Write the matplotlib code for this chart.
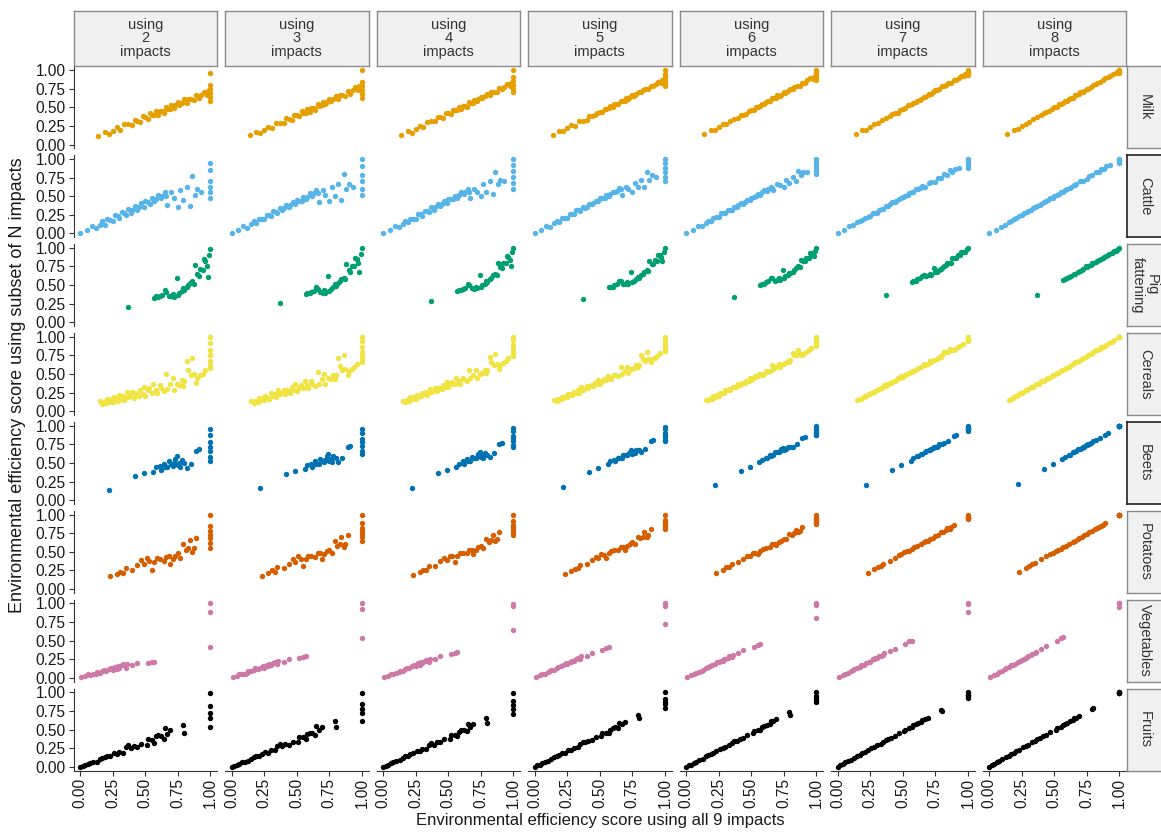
import matplotlib
matplotlib.use('Agg')
import matplotlib.pyplot as plt

plt.rcParams['font.family'] = ['Liberation Sans', 'DejaVu Sans']

# ---------------- data ----------------
n_impacts = [2, 3, 4, 5, 6, 7, 8]
products = ['Milk', 'Cattle', 'Pig\nfattening', 'Cereals', 'Beets', 'Potatoes', 'Vegetables', 'Fruits']
colors = ['#E69F00', '#56B4E9', '#009E73', '#F0E442', '#0072B2', '#D55E00', '#CC79A7', '#000000']
tick_vals = [0.0, 0.25, 0.5, 0.75, 1.0]
tick_labels = ['0.00', '0.25', '0.50', '0.75', '1.00']

milk_x = [0.14,0.19,0.22,0.25,0.28,0.31,0.34,0.37,0.40,0.42,
          0.44,0.46,0.48,0.50,0.52,0.54,0.55,0.57,0.58,0.60,
          0.61,0.63,0.64,0.66,0.67,0.69,0.70,0.72,0.73,0.75,
          0.76,0.78,0.80,0.82,0.83,0.85,0.87,0.89,0.91,0.93,
          0.95,0.97,0.98,1,1,1,1,1,1]
milk_y = [
    [.12,.17,.14,.18,.23,.19,.27,.27,.26,.33,.32,.30,.38,.37,.34,.42,.40,.40,.45,.40,
     .45,.45,.43,.51,.48,.48,.53,.49,.53,.57,.53,.56,.61,.56,.61,.61,.60,.67,.63,.67,
     .71,.67,.72,.58,.64,.69,.74,.80,.96],
    [.13,.17,.15,.20,.24,.22,.29,.29,.29,.35,.34,.33,.40,.40,.38,.45,.43,.43,.48,.44,
     .49,.49,.47,.54,.52,.53,.57,.54,.57,.61,.58,.61,.65,.61,.66,.66,.65,.72,.68,.73,
     .77,.73,.78,.62,.68,.73,.78,.84,1.00],
    [.13,.18,.16,.21,.25,.24,.30,.31,.31,.37,.37,.36,.42,.43,.41,.47,.46,.46,.50,.48,
     .52,.52,.51,.57,.56,.56,.60,.58,.61,.64,.62,.65,.68,.66,.70,.71,.70,.76,.74,.77,
     .81,.79,.82,.70,.75,.80,.85,.90,1.00],
    [.13,.18,.18,.22,.26,.25,.31,.32,.33,.38,.38,.39,.43,.44,.44,.48,.48,.49,.52,.51,
     .54,.55,.54,.59,.58,.59,.62,.61,.64,.67,.65,.68,.71,.70,.73,.74,.74,.79,.78,.81,
     .84,.83,.86,.78,.82,.86,.90,.94,1.00],
    [.14,.19,.19,.23,.27,.27,.32,.34,.36,.40,.40,.41,.45,.47,.47,.51,.51,.52,.55,.54,
     .57,.58,.58,.62,.62,.63,.66,.65,.67,.70,.69,.72,.75,.74,.77,.78,.79,.83,.83,.86,
     .89,.88,.91,.86,.89,.92,.95,.97,1.00],
    [.14,.19,.20,.24,.28,.29,.33,.36,.38,.41,.42,.43,.47,.48,.49,.53,.53,.54,.56,.57,
     .59,.60,.61,.64,.64,.66,.68,.68,.70,.73,.73,.75,.78,.78,.80,.82,.83,.86,.87,.89,
     .92,.92,.95,.93,.95,.96,.97,.98,1.00],
    [.14,.19,.21,.25,.28,.30,.34,.37,.39,.42,.44,.45,.48,.50,.51,.54,.54,.56,.58,.59,
     .61,.62,.63,.66,.66,.68,.70,.71,.72,.75,.75,.77,.80,.81,.82,.84,.86,.89,.90,.92,
     .94,.96,.97,.96,.97,.98,.99,1.00,1.00],
]

cattle_x = [0.00,0.05,0.09,0.12,0.15,0.17,0.19,0.21,0.23,0.25,
            0.27,0.29,0.30,0.32,0.34,0.35,0.37,0.39,0.40,0.42,
            0.44,0.45,0.47,0.49,0.50,0.52,0.54,0.55,0.57,0.58,
            0.60,0.62,0.63,0.65,0.66,
            0.67,0.70,0.72,0.75,0.77,0.79,0.82,0.84,0.86,0.88,0.90,0.93,
            1,1,1,1,1,1]
cattle_y = [
    [.00,.04,.10,.07,.12,.17,.12,.20,.18,.17,.25,.23,.21,.29,.27,.25,.33,.28,.32,.37,
     .32,.36,.41,.36,.43,.42,.40,.47,.43,.46,.51,.47,.50,.55,.50,
     .38,.55,.48,.36,.58,.45,.62,.37,.77,.52,.60,.55,
     .48,.55,.62,.70,.85,.95],
    [.00,.04,.10,.08,.13,.17,.14,.20,.20,.19,.25,.25,.23,.30,.29,.27,.34,.31,.34,.38,
     .35,.38,.42,.39,.45,.44,.43,.49,.46,.49,.54,.50,.54,.58,.54,
     .42,.58,.52,.43,.62,.50,.66,.45,.80,.60,.66,.62,
     .52,.60,.70,.78,.90,1.00],
    [.00,.04,.10,.09,.13,.17,.15,.20,.20,.20,.26,.26,.24,.30,.30,.29,.35,.32,.35,.39,
     .37,.40,.43,.41,.46,.46,.46,.50,.48,.51,.55,.53,.55,.59,.56,
     .47,.60,.56,.50,.66,.56,.70,.53,.82,.66,.72,.70,
     .60,.68,.76,.84,.92,1.00],
    [.00,.05,.10,.09,.14,.17,.16,.21,.21,.21,.26,.26,.26,.31,.31,.30,.35,.34,.36,.40,
     .39,.41,.44,.43,.47,.47,.48,.52,.50,.53,.56,.55,.57,.61,.59,
     .52,.63,.60,.56,.68,.62,.72,.62,.83,.72,.78,.76,
     .70,.76,.82,.88,.94,1.00],
    [.00,.05,.10,.10,.14,.17,.17,.21,.22,.22,.27,.27,.27,.31,.32,.32,.36,.35,.38,.41,
     .40,.42,.45,.45,.48,.49,.50,.53,.52,.55,.58,.57,.59,.62,.61,
     .58,.66,.65,.62,.72,.68,.76,.70,.84,.78,.83,.82,
     .80,.84,.88,.92,.96,1.00],
    [.00,.05,.10,.11,.15,.17,.18,.21,.22,.24,.27,.28,.28,.32,.33,.33,.37,.37,.39,.42,
     .42,.44,.46,.47,.49,.50,.52,.54,.55,.56,.59,.59,.61,.64,.63,
     .63,.68,.69,.69,.75,.74,.80,.78,.85,.83,.87,.88,
     .88,.91,.94,.96,.98,1.00],
    [.00,.05,.09,.12,.15,.17,.19,.21,.23,.25,.27,.29,.30,.32,.34,.35,.37,.38,.40,.42,
     .44,.45,.47,.48,.50,.52,.53,.55,.56,.58,.60,.61,.63,.65,.65,
     .66,.70,.71,.73,.77,.78,.82,.82,.86,.86,.90,.92,
     .95,.97,.98,.99,1.00,1.00],
]

pig_x = [0.37,0.57,0.58,0.60,0.61,0.63,0.65,0.66,0.68,0.70,
         0.71,0.72,0.74,0.75,0.76,0.78,0.79,0.80,0.82,0.83,
         0.84,0.86,0.87,0.88,0.90,0.91,0.92,0.94,0.95,0.96,
         0.97,0.98,0.99,1.00]
pig_y = [
    [.21,.33,.35,.34,.36,.37,.43,.41,.36,.35,.38,.34,.59,.37,.40,.42,.46,.44,.48,.50,
     .53,.55,.52,.77,.65,.62,.72,.70,.85,.82,.76,.61,.90,.99],
    [.26,.38,.40,.39,.41,.42,.47,.45,.41,.40,.43,.40,.62,.42,.45,.47,.51,.49,.53,.55,
     .58,.60,.58,.78,.70,.68,.76,.75,.87,.85,.80,.68,.92,1.00],
    [.29,.42,.44,.43,.45,.46,.51,.50,.46,.45,.48,.46,.64,.48,.50,.52,.56,.54,.58,.60,
     .63,.65,.63,.80,.74,.73,.80,.79,.89,.88,.84,.76,.94,1.00],
    [.32,.47,.48,.48,.50,.51,.55,.55,.51,.51,.54,.52,.67,.54,.56,.58,.61,.60,.63,.65,
     .68,.70,.69,.82,.78,.78,.84,.83,.91,.90,.88,.83,.95,1.00],
    [.34,.50,.52,.52,.54,.55,.59,.59,.56,.57,.59,.57,.70,.60,.62,.64,.66,.66,.68,.70,
     .73,.75,.74,.84,.82,.82,.87,.87,.93,.93,.91,.89,.96,1.00],
    [.365,.54,.55,.56,.58,.59,.62,.63,.62,.63,.65,.64,.73,.67,.68,.70,.72,.73,.75,.77,
     .79,.80,.80,.86,.86,.87,.90,.91,.95,.95,.95,.94,.98,1.00],
    [.37,.57,.58,.59,.61,.62,.65,.65,.67,.69,.70,.71,.75,.74,.75,.77,.79,.79,.81,.83,
     .84,.85,.86,.88,.89,.91,.92,.93,.95,.96,.96,.97,.99,1.00],
]

cereals_x = [0.15,0.17,0.18,0.20,0.21,0.22,0.24,0.25,0.26,0.28,
             0.29,0.30,0.32,0.33,0.34,0.36,0.37,0.38,0.40,0.41,
             0.42,0.44,0.45,0.46,0.48,0.49,0.50,0.52,0.53,0.55,
             0.56,0.58,0.59,0.61,0.62,0.64,0.66,0.67,0.69,0.71,
             0.72,0.74,0.76,
             0.78,0.79,0.80,0.82,0.83,0.85,0.86,0.87,0.89,0.90,0.92,0.94,0.96,
             1,1,1,1,1,1,1]
cereals_y = [
    [.14,.10,.13,.11,.17,.13,.16,.12,.19,.16,.14,.22,.17,.21,.15,.26,.19,.21,.26,.18,
     .24,.23,.20,.29,.23,.33,.21,.28,.31,.25,.36,.29,.24,.35,.31,.27,.50,.30,.36,.45,
     .28,.36,.35,
     .42,.34,.41,.68,.55,.48,.72,.50,.38,.45,.48,.50,.55,
     .58,.62,.68,.75,.82,.92,1.00],
    [.14,.11,.14,.13,.18,.15,.18,.15,.20,.18,.17,.24,.20,.23,.19,.28,.23,.24,.29,.23,
     .28,.27,.25,.32,.28,.36,.27,.33,.35,.31,.40,.35,.31,.40,.37,.34,.53,.37,.43,.50,
     .37,.44,.43,
     .49,.43,.49,.71,.61,.55,.75,.57,.48,.54,.57,.59,.63,
     .66,.70,.74,.80,.86,.94,1.00],
    [.14,.13,.15,.14,.19,.16,.19,.17,.22,.21,.20,.25,.23,.26,.22,.30,.26,.27,.31,.27,
     .31,.31,.30,.35,.33,.39,.32,.37,.39,.36,.44,.40,.37,.45,.43,.41,.56,.44,.49,.55,
     .45,.50,.51,
     .56,.51,.56,.73,.66,.62,.77,.64,.57,.62,.65,.67,.71,
     .74,.76,.80,.85,.89,.95,1.00],
    [.15,.14,.16,.16,.19,.18,.20,.19,.23,.23,.22,.26,.25,.28,.25,.32,.29,.30,.34,.31,
     .34,.35,.34,.38,.37,.42,.37,.41,.43,.42,.47,.45,.43,.49,.48,.47,.59,.50,.54,.59,
     .52,.57,.58,
     .62,.59,.62,.76,.70,.68,.80,.70,.66,.70,.72,.74,.78,
     .81,.83,.86,.89,.92,.96,1.00],
    [.15,.15,.17,.17,.20,.19,.22,.21,.24,.25,.25,.28,.28,.30,.29,.33,.32,.33,.36,.35,
     .37,.38,.38,.41,.41,.45,.42,.45,.47,.47,.50,.50,.49,.54,.53,.54,.62,.57,.60,.64,
     .60,.63,.65,
     .68,.66,.69,.78,.75,.75,.82,.77,.75,.77,.80,.82,.85,
     .88,.89,.91,.93,.95,.98,1.00],
    [.15,.16,.17,.19,.20,.21,.23,.23,.25,.26,.27,.29,.30,.31,.31,.35,.34,.36,.38,.38,
     .39,.41,.42,.44,.45,.47,.46,.49,.50,.51,.53,.54,.54,.57,.58,.59,.64,.62,.64,.67,
     .66,.69,.70,
     .73,.73,.75,.80,.79,.80,.84,.82,.82,.84,.86,.88,.90,
     .94,.95,.96,.97,.97,.99,1.00],
    [.15,.17,.18,.20,.21,.22,.24,.25,.26,.28,.29,.30,.32,.33,.33,.36,.36,.37,.40,.40,
     .41,.43,.44,.45,.47,.49,.49,.51,.52,.54,.55,.57,.58,.60,.61,.63,.66,.66,.68,.70,
     .71,.73,.75,
     .77,.78,.79,.82,.82,.84,.86,.86,.87,.89,.91,.93,.95,
     .99,.99,.99,1.00,1.00,1.00,1.00],
]

beets_x = [0.22,0.42,0.49,0.56,0.58,0.61,0.62,0.64,0.65,0.67,
           0.68,0.70,0.71,0.72,0.73,0.74,0.75,0.76,0.77,0.78,
           0.80,0.82,0.85,0.89,0.91,1,1,1,1,1,1,1]
beets_y = [
    [.14,.33,.36,.38,.44,.46,.41,.49,.45,.44,.52,.48,.46,.50,.55,.59,.47,.50,.45,.54,
     .50,.43,.49,.66,.69,.53,.58,.66,.72,.78,.88,.95],
    [.16,.35,.39,.42,.47,.49,.45,.52,.49,.49,.55,.52,.51,.54,.59,.62,.53,.55,.51,.59,
     .56,.51,.56,.71,.73,.62,.66,.73,.78,.82,.90,.96],
    [.17,.36,.41,.45,.49,.52,.49,.55,.53,.53,.58,.56,.56,.58,.62,.65,.58,.60,.57,.63,
     .61,.58,.63,.75,.77,.71,.74,.79,.83,.86,.93,.97],
    [.18,.38,.43,.48,.52,.54,.53,.57,.56,.57,.61,.60,.60,.62,.65,.67,.62,.64,.63,.67,
     .67,.64,.69,.79,.81,.79,.81,.85,.87,.90,.95,.98],
    [.20,.39,.45,.51,.54,.57,.56,.60,.59,.61,.64,.64,.64,.66,.68,.70,.67,.69,.68,.71,
     .72,.71,.75,.83,.85,.87,.88,.90,.92,.94,.97,.99],
    [.21,.41,.47,.53,.56,.59,.59,.62,.62,.64,.66,.67,.67,.69,.70,.72,.71,.72,.73,.75,
     .76,.77,.80,.86,.88,.93,.94,.95,.96,.97,.98,.99],
    [.22,.42,.49,.55,.58,.61,.61,.64,.64,.66,.68,.69,.70,.71,.72,.74,.74,.75,.76,.77,
     .79,.81,.84,.88,.90,.99,.99,.99,1.00,1.00,1.00,1.00],
]

potatoes_x = [0.23,0.28,0.31,0.33,0.35,0.40,0.44,0.47,0.49,0.51,
              0.53,0.55,0.57,0.59,0.61,0.64,0.66,0.68,0.69,0.71,
              0.73,0.75,0.77,0.79,0.81,0.83,0.84,0.86,0.87,0.89,
              1,1,1,1,1,1,1]
potatoes_y = [
    [.17,.20,.23,.21,.28,.25,.32,.39,.33,.42,.38,.25,.36,.42,.40,.38,.43,.44,.33,.41,
     .45,.48,.42,.60,.52,.55,.66,.50,.55,.68,.55,.62,.68,.72,.78,.85,1.00],
    [.18,.22,.25,.23,.29,.28,.34,.41,.36,.44,.41,.31,.40,.45,.44,.43,.48,.49,.40,.47,
     .51,.53,.49,.64,.58,.61,.70,.57,.61,.72,.64,.70,.74,.78,.82,.88,1.00],
    [.19,.23,.26,.26,.31,.31,.37,.42,.39,.45,.44,.36,.44,.48,.48,.48,.52,.53,.47,.52,
     .56,.58,.55,.67,.63,.66,.73,.64,.67,.76,.72,.76,.80,.83,.86,.91,1.00],
    [.20,.24,.27,.28,.32,.33,.39,.43,.42,.47,.46,.42,.48,.51,.52,.52,.56,.57,.53,.58,
     .60,.63,.61,.70,.68,.70,.76,.70,.73,.80,.80,.83,.86,.87,.90,.93,1.00],
    [.21,.26,.29,.30,.33,.36,.41,.45,.45,.48,.49,.47,.51,.54,.55,.57,.60,.61,.59,.63,
     .65,.67,.67,.74,.73,.75,.79,.76,.78,.83,.87,.89,.91,.92,.94,.96,1.00],
    [.22,.27,.30,.31,.34,.38,.42,.46,.47,.50,.51,.51,.54,.57,.58,.60,.63,.65,.64,.67,
     .69,.71,.72,.76,.77,.79,.82,.81,.83,.86,.94,.95,.96,.96,.97,.98,1.00],
    [.23,.28,.31,.33,.35,.40,.44,.47,.49,.51,.53,.54,.56,.58,.60,.63,.65,.67,.68,.70,
     .72,.74,.76,.78,.80,.82,.83,.85,.86,.88,.99,.99,.99,1.00,1.00,1.00,1.00],
]

vegetables_x = [0.01,0.04,0.06,0.08,0.10,0.12,0.13,0.15,0.17,0.18,
                0.20,0.22,0.24,0.25,0.27,0.28,0.29,0.30,0.32,0.33,
                0.35,0.36,0.40,0.44,0.52,0.55,0.57,1,1,1]
vegetables_y = [
    [.01,.03,.05,.04,.05,.06,.08,.07,.09,.11,.10,.12,.14,.11,.15,.12,.16,.13,.17,.19,
     .14,.19,.17,.20,.20,.21,.21,1.00,.89,.42],
    [.01,.03,.05,.05,.06,.07,.09,.09,.11,.13,.12,.14,.16,.14,.18,.16,.19,.17,.20,.22,
     .19,.23,.22,.25,.27,.28,.29,1.00,.93,.53],
    [.01,.03,.05,.06,.07,.08,.10,.10,.12,.14,.14,.16,.18,.16,.20,.18,.21,.20,.23,.24,
     .22,.26,.26,.29,.32,.34,.35,.99,.96,.64],
    [.01,.04,.06,.06,.08,.09,.11,.11,.13,.15,.16,.18,.20,.19,.22,.21,.23,.23,.25,.27,
     .26,.29,.30,.33,.38,.40,.41,1.00,.97,.72],
    [.01,.04,.06,.07,.08,.10,.11,.13,.15,.16,.17,.19,.21,.21,.23,.23,.25,.25,.27,.29,
     .28,.31,.33,.37,.42,.44,.46,1.00,.98,.80],
    [.01,.04,.06,.07,.09,.11,.12,.13,.15,.17,.18,.20,.22,.22,.25,.25,.27,.27,.29,.30,
     .31,.33,.36,.39,.46,.49,.50,1.00,.99,.88],
    [.01,.04,.06,.08,.10,.12,.13,.15,.17,.18,.19,.21,.23,.24,.26,.27,.28,.29,.31,.32,
     .34,.35,.39,.43,.50,.53,.55,1.00,1.00,.95],
]

fruits_x = [0.00,0.02,0.04,0.06,0.08,0.10,0.13,0.15,0.17,0.19,
            0.21,0.23,0.26,0.28,0.30,0.33,0.35,0.37,0.39,0.41,
            0.44,0.47,0.51,0.52,0.55,0.57,0.58,0.60,0.62,0.64,
            0.65,0.67,0.69,0.79,0.80,1,1,1,1,1]
fruits_y = [
    [.00,.01,.02,.04,.05,.06,.07,.10,.12,.13,.14,.15,.18,.17,.20,.19,.26,.29,.25,.28,
     .26,.31,.30,.37,.36,.32,.41,.43,.42,.38,.52,.44,.50,.56,.46,.53,.65,.72,.81,.99],
    [.00,.01,.02,.04,.06,.07,.08,.11,.13,.14,.15,.17,.20,.19,.22,.22,.28,.31,.28,.31,
     .30,.34,.34,.40,.40,.37,.44,.46,.46,.43,.55,.49,.54,.61,.53,.62,.72,.78,.85,.99],
    [.00,.01,.03,.05,.06,.08,.09,.12,.14,.15,.17,.18,.21,.21,.24,.24,.29,.32,.30,.33,
     .33,.37,.38,.43,.43,.42,.47,.49,.50,.48,.57,.53,.57,.65,.59,.71,.78,.83,.88,.99],
    [.00,.02,.03,.05,.07,.08,.10,.13,.15,.16,.18,.19,.22,.23,.25,.27,.31,.33,.33,.35,
     .36,.40,.42,.45,.46,.46,.50,.52,.53,.52,.59,.57,.60,.69,.65,.79,.84,.87,.91,1.00],
    [.00,.02,.03,.05,.07,.09,.11,.14,.16,.17,.19,.21,.24,.25,.27,.29,.32,.35,.35,.37,
     .39,.43,.45,.48,.50,.50,.53,.55,.56,.57,.61,.61,.64,.73,.70,.87,.90,.92,.95,1.00],
    [.00,.02,.04,.06,.08,.09,.12,.14,.16,.18,.20,.22,.25,.26,.29,.31,.34,.36,.37,.39,
     .41,.45,.48,.50,.52,.54,.56,.58,.59,.60,.63,.64,.66,.76,.75,.93,.95,.96,.97,1.00],
    [.00,.02,.04,.06,.08,.10,.13,.15,.17,.19,.21,.23,.26,.28,.30,.33,.35,.37,.39,.41,
     .43,.47,.50,.52,.54,.56,.57,.59,.61,.63,.65,.66,.68,.78,.79,.99,.99,.99,1.00,1.00],
]

xs = [milk_x, cattle_x, pig_x, cereals_x, beets_x, potatoes_x, vegetables_x, fruits_x]
ys = [milk_y, cattle_y, pig_y, cereals_y, beets_y, potatoes_y, vegetables_y, fruits_y]

# ---------------- layout ----------------
W, H = 1161, 833
fig = plt.figure(figsize=(W / 100, H / 100), dpi=100)
fig.patch.set_facecolor('white')


def frac(l, t, w, h):
    return [l / W, 1 - (t + h) / H, w / W, h / H]


PL, PW, PP = 73.5, 143.5, 151.5
PT, PH, RP = 66.3, 82.0, 88.9
STRIP_TOP = 10.5
AX_COL = '#333333'
TXT_COL = '#1a1a1a'
STRIP_FILL = '#F0F0F0'

for r in range(len(products)):
    for c in range(len(n_impacts)):
        ax = fig.add_axes(frac(PL + c * PP, PT + r * RP, PW, PH))
        x = xs[r]
        y = ys[r][c]
        n = min(len(x), len(y))
        ax.scatter(x[:n], y[:n], s=15, color=colors[r], linewidths=0, clip_on=False, zorder=3)
        ax.set_xlim(-0.05, 1.05)
        ax.set_ylim(-0.05, 1.05)
        for s in ax.spines.values():
            s.set_visible(False)
        ax.set_xticks(tick_vals)
        ax.set_yticks(tick_vals)
        ax.tick_params(length=3.5, width=0.8, color=AX_COL, labelcolor=TXT_COL,
                       labelsize=11.2, pad=2)
        if c == 0:
            ax.spines['left'].set_visible(True)
            ax.spines['left'].set_color(AX_COL)
            ax.spines['left'].set_linewidth(0.8)
            ax.set_yticklabels(tick_labels)
        else:
            ax.tick_params(axis='y', left=False, labelleft=False)
        if r == len(products) - 1:
            ax.spines['bottom'].set_visible(True)
            ax.spines['bottom'].set_color(AX_COL)
            ax.spines['bottom'].set_linewidth(0.8)
            ax.set_xticklabels(tick_labels, rotation=90)
        else:
            ax.tick_params(axis='x', bottom=False, labelbottom=False)

# top strips
for c, n_imp in enumerate(n_impacts):
    sax = fig.add_axes(frac(PL + c * PP, STRIP_TOP, PW, PT - STRIP_TOP))
    sax.set_facecolor(STRIP_FILL)
    sax.set_xticks([])
    sax.set_yticks([])
    for s in sax.spines.values():
        s.set_color('#8a8a8a')
        s.set_linewidth(1.0)
    sax.text(0.5, 0.5, f'using\n{n_imp}\nimpacts', ha='center', va='center',
             fontsize=10.5, color='#333333', linespacing=0.95, transform=sax.transAxes)

# right strips
for r, prod in enumerate(products):
    sax = fig.add_axes(frac(PL + 6 * PP + PW + 1, PT + r * RP, 36, PH))
    sax.set_facecolor(STRIP_FILL)
    sax.set_xticks([])
    sax.set_yticks([])
    edge = '#222222' if prod in ('Cattle', 'Beets') else '#8a8a8a'
    for s in sax.spines.values():
        s.set_color(edge)
        s.set_linewidth(1.2 if edge == '#222222' else 1.0)
    sax.text(0.5, 0.5, prod, ha='center', va='center', rotation=-90,
             fontsize=10.5, color='#333333', linespacing=0.95, transform=sax.transAxes)

fig.text(600 / W, 1 - 820 / H, 'Environmental efficiency score using all 9 impacts',
         ha='center', va='center', fontsize=12, color=TXT_COL)
fig.text(18 / W, 1 - 385 / H, 'Environmental efficiency score using subset of N impacts',
         ha='center', va='center', rotation=90, fontsize=13, color=TXT_COL)

fig.savefig('out.png', dpi=100, facecolor='white')
